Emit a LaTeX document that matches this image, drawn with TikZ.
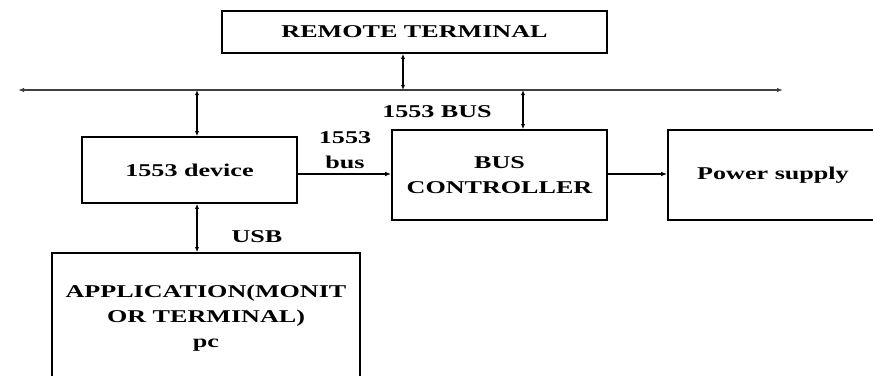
\documentclass[tikz,border=0pt]{standalone}
\usepackage{fontspec}
\setmainfont{Liberation Serif}[FakeStretch=1.45]
\usetikzlibrary{arrows.meta,calc}
\tikzset{
  blockbox/.style={draw,line width=1.6pt,inner sep=0pt,align=center,font=\fontsize{18}{25}\selectfont\bfseries},
  tag/.style={inner sep=0pt,align=center,font=\fontsize{18}{25}\selectfont\bfseries},
  both/.style={line width=1.8pt,{Latex[length=5pt,width=4pt]}-{Latex[length=5pt,width=4pt]}},
  onward/.style={line width=1.2pt,-{Latex[length=6pt,width=4.5pt]}}
}
\begin{document}
\begin{tikzpicture}
				\useasboundingbox (0,0) rectangle (873pt,-375pt);
				\node[blockbox,minimum width=385pt,minimum height=42pt] (rt) at (414.5pt,-32pt) {REMOTE TERMINAL};
				\node[blockbox,minimum width=215pt,minimum height=66pt] (dev) at (189.5pt,-170pt) {1553 device};
				\node[blockbox,minimum width=215pt,minimum height=90pt] (bc) at (499.5pt,-175pt) {BUS\\CONTROLLER};
				\node[blockbox,minimum width=210pt,minimum height=90pt,text depth=4pt] (ps) at (773pt,-175pt) {Power supply};
				\node[blockbox,minimum width=308pt,minimum height=130pt] (app) at (206pt,-318pt) {APPLICATION(MONIT\\OR TERMINAL)\\pc};
				% bus line and taps
				\coordinate (busL) at (18pt,-90pt);
				\coordinate (busR) at (783pt,-90pt);
				\coordinate (tapRT) at (403pt,-90pt);
				\coordinate (tapDev) at (197pt,-90pt);
				\coordinate (tapBC) at (523pt,-90pt);
				\draw[line width=1.8pt,draw=black!75,{Latex[length=6pt,width=4.5pt]}-{Latex[length=6pt,width=4.5pt]}] (busL)--(busR);
				\draw[both] (tapRT |- rt.south)--(tapRT);
				\draw[both] (tapDev)--(tapDev |- dev.north);
				\draw[both] (tapBC)--(tapBC |- bc.north);
				\draw[both] (tapDev |- dev.south)--(tapDev |- app.north);
				\draw[onward] ([yshift=-4pt]dev.east)--([yshift=-4pt]dev.east -| bc.west);
				\draw[onward] ([yshift=1pt]bc.east)--([yshift=1pt]ps.west);
				\node[tag] (busname) at (437pt,-112pt) {1553 BUS};
				\node[tag] (linkname) at (345pt,-150pt) {1553\\bus};
				\node[tag] (usbname) at (257pt,-237pt) {USB};
\end{tikzpicture}
\end{document}
